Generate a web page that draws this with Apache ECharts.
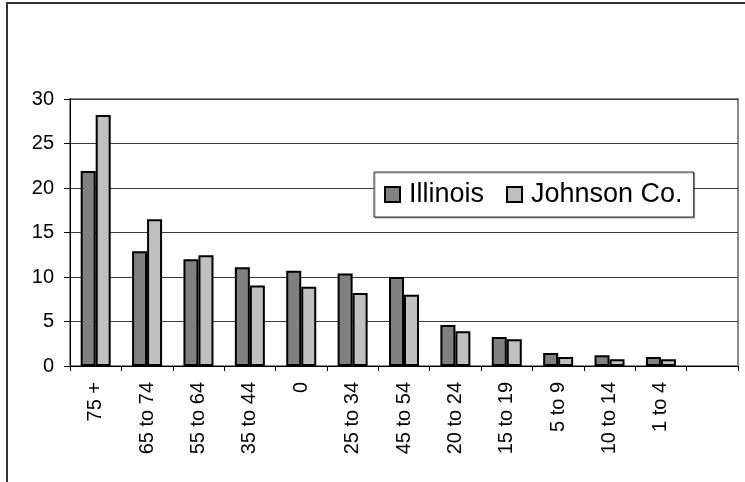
<!DOCTYPE html>
<html>
<head>
<meta charset="utf-8">
<script src="https://cdn.jsdelivr.net/npm/echarts@6/dist/echarts.min.js"></script>
<style>
html,body{margin:0;padding:0;background:#fff;}
#c{width:745px;height:482px;}
</style>
</head>
<body>
<div id="c"></div>
<script>
var categories = ['75 +', '65 to 74', '55 to 64', '35 to 44', '0', '25 to 34', '45 to 54', '20 to 24', '15 to 19', '5 to 9', '10 to 14', '1 to 4', ''];
var illinois = [21.9, 12.9, 12.0, 11.1, 10.7, 10.4, 10.0, 4.6, 3.25, 1.45, 1.2, 1.0, null];
var johnson = [28.2, 16.5, 12.45, 9.05, 8.9, 8.2, 8.0, 3.9, 3.0, 1.0, 0.77, 0.77, null];
var yTicks = {min: 0, max: 30, interval: 5};

var font = '"Liberation Sans", Arial, sans-serif';
var chart = echarts.init(document.getElementById('c'), null, {renderer: 'canvas'});
chart.setOption({
  animation: false,
  backgroundColor: '#fff',
  textStyle: {fontFamily: font},
  graphic: [{
    type: 'rect',
    shape: {x: 7, y: 3, width: 900, height: 700},
    style: {fill: 'none', stroke: '#333', lineWidth: 2},
    silent: true,
    z: 100
  }],
  grid: {
    left: 70, right: 7, top: 99, bottom: 116,
    show: true, borderColor: '#8a8a8a', borderWidth: 2, backgroundColor: 'transparent'
  },
  legend: {
    left: 374, top: 172,
    orient: 'horizontal',
    padding: [9, 11, 9, 10],
    itemWidth: 15, itemHeight: 15,
    itemGap: 22,
    backgroundColor: '#fff',
    borderColor: '#333', borderWidth: 1,
    shadowColor: 'rgba(0,0,0,0.35)', shadowOffsetX: 1, shadowOffsetY: 1, shadowBlur: 0,
    textStyle: {fontSize: 27, color: '#000', fontFamily: font, padding: [0, 0, 0, 4]},
    data: [{name: 'Illinois', icon: 'rect'}, {name: 'Johnson Co.', icon: 'rect'}]
  },
  xAxis: {
    type: 'category',
    data: categories,
    boundaryGap: true,
    axisLine: {lineStyle: {color: '#000', width: 1}},
    axisTick: {show: true, length: 5, lineStyle: {color: '#000'}},
    axisLabel: {rotate: 90, fontSize: 20, color: '#000', margin: 16, fontFamily: font, interval: 0}
  },
  yAxis: {
    type: 'value',
    min: yTicks.min, max: yTicks.max, interval: yTicks.interval,
    axisLine: {show: true, lineStyle: {color: '#000', width: 1}},
    axisTick: {show: true, length: 6, lineStyle: {color: '#000'}},
    axisLabel: {fontSize: 20, color: '#000', margin: 16, fontFamily: font},
    splitLine: {show: true, lineStyle: {color: '#3a3a3a', width: 1}}
  },
  series: [{
    name: 'Illinois',
    type: 'bar',
    data: illinois,
    barWidth: 15,
    barGap: '0%',
    itemStyle: {color: '#808080', borderColor: '#000', borderWidth: 2}
  }, {
    name: 'Johnson Co.',
    type: 'bar',
    data: johnson,
    barWidth: 15,
    barGap: '0%',
    itemStyle: {color: '#c0c0c0', borderColor: '#000', borderWidth: 2}
  }]
});
</script>
</body>
</html>
